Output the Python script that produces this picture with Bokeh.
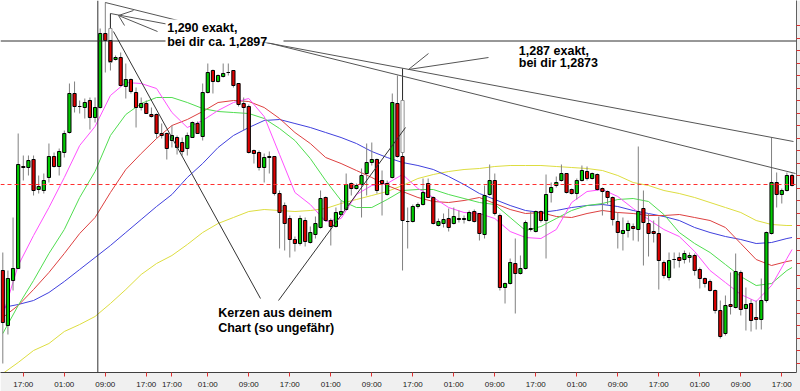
from bokeh.plotting import figure
from bokeh.models import (Range1d, FixedTicker, Span, Label,
                          ColumnDataSource, BoxAnnotation)
from bokeh.embed import file_html
from bokeh.resources import INLINE

# ---------------- data (hourly candles) ----------------
open_ = [1.27920,1.27700,1.27880,1.27928,1.28336,1.28332,1.28364,1.28244,1.28240,1.28292,
 1.28376,1.28336,1.28392,1.28472,1.28628,1.28576,1.28572,1.28600,1.28532,1.28572,
 1.28868,1.28840,1.28764,1.28772,1.28656,1.28684,1.28632,1.28572,1.28588,1.28544,
 1.28544,1.28468,1.28468,1.28440,1.28452,1.28432,1.28408,1.28452,1.28508,1.28456,
 1.28632,1.28720,1.28676,1.28696,1.28712,1.28720,1.28668,1.28588,1.28576,1.28400,
 1.28392,1.28332,1.28372,1.28376,1.28228,1.28180,1.28128,1.28044,1.28028,1.28120,
 1.28032,1.28064,1.28092,1.28212,1.28120,1.28096,1.28144,1.28164,1.28268,1.28248,
 1.28264,1.28308,1.28352,1.28364,1.28280,1.28224,1.28292,1.28588,1.28376,1.28116,
 1.28116,1.28176,1.28184,1.28268,1.28212,1.28100,1.28108,1.28128,1.28108,1.28128,
 1.28124,1.28120,1.28156,1.28148,1.28064,1.28224,1.28280,1.28140,1.27852,1.27868,
 1.27948,1.27908,1.27928,1.28084,1.28076,1.28156,1.28120,1.28232,1.28260,1.28280,
 1.28308,1.28244,1.28228,1.28280,1.28316,1.28288,1.28304,1.28248,1.28236,1.28212,
 1.28116,1.28068,1.28080,1.28096,1.28084,1.28168,1.28108,1.28076,1.28068,1.27952,
 1.27892,1.27964,1.27972,1.27964,1.27972,1.27980,1.27924,1.27888,1.27876,1.27840,
 1.27760,1.27668,1.27784,1.27772,1.27912,1.27768,1.27788,1.27732,1.27724,1.27800,
 1.28068,1.28272,1.28224,1.28240,1.28300]
high = [1.27992,1.27920,1.28132,1.28468,1.28380,1.28380,1.28380,1.28300,1.28308,1.28428,
 1.28392,1.28408,1.28480,1.28668,1.28676,1.28600,1.28608,1.28612,1.28612,1.28888,
 1.28992,1.28948,1.28780,1.28792,1.28748,1.28688,1.28652,1.28612,1.28600,1.28572,
 1.28548,1.28508,1.28472,1.28500,1.28460,1.28452,1.28472,1.28516,1.28516,1.28668,
 1.28748,1.28724,1.28704,1.28748,1.28748,1.28720,1.28668,1.28612,1.28584,1.28404,
 1.28400,1.28388,1.28396,1.28376,1.28240,1.28192,1.28140,1.28056,1.28140,1.28132,
 1.28096,1.28136,1.28240,1.28216,1.28128,1.28172,1.28200,1.28308,1.28272,1.28268,
 1.28328,1.28428,1.28432,1.28368,1.28320,1.28280,1.28628,1.28700,1.28728,1.28172,
 1.28184,1.28192,1.28288,1.28288,1.28216,1.28128,1.28148,1.28168,1.28172,1.28160,
 1.28140,1.28160,1.28164,1.28148,1.28260,1.28344,1.28308,1.28148,1.27872,1.27968,
 1.28048,1.27980,1.28120,1.28156,1.28160,1.28160,1.28304,1.28272,1.28296,1.28344,
 1.28308,1.28248,1.28288,1.28340,1.28336,1.28312,1.28308,1.28252,1.28240,1.28216,
 1.28152,1.28132,1.28120,1.28108,1.28416,1.28240,1.28148,1.28120,1.28136,1.27960,
 1.27992,1.27992,1.27992,1.28000,1.27992,1.27988,1.27932,1.27892,1.27884,1.27844,
 1.27800,1.27820,1.27912,1.27988,1.27920,1.27852,1.27804,1.27800,1.27888,1.28076,
 1.28452,1.28312,1.28248,1.28312,1.28308]
low = [1.27548,1.27664,1.27840,1.27928,1.28280,1.28300,1.28220,1.28228,1.28228,1.28272,
 1.28332,1.28300,1.28372,1.28468,1.28552,1.28548,1.28528,1.28484,1.28512,1.28568,
 1.28712,1.28720,1.28760,1.28656,1.28608,1.28628,1.28492,1.28560,1.28548,1.28532,
 1.28448,1.28448,1.28364,1.28412,1.28384,1.28380,1.28380,1.28452,1.28468,1.28440,
 1.28628,1.28628,1.28672,1.28692,1.28700,1.28652,1.28576,1.28480,1.28388,1.28348,
 1.28320,1.28272,1.28308,1.28220,1.28008,1.28000,1.27972,1.27996,1.28020,1.28016,
 1.28028,1.28048,1.28088,1.28116,1.28020,1.28092,1.28140,1.28160,1.28220,1.28244,
 1.28132,1.28220,1.28340,1.28228,1.28140,1.28220,1.28288,1.28372,1.27920,1.28008,
 1.28112,1.28168,1.28180,1.28212,1.28104,1.28096,1.28092,1.28076,1.28104,1.28112,
 1.28108,1.28116,1.28112,1.28040,1.28048,1.28220,1.28140,1.27840,1.27788,1.27864,
 1.27748,1.27904,1.27924,1.28076,1.28072,1.28112,1.27968,1.28192,1.28252,1.28276,
 1.28228,1.28224,1.28204,1.28276,1.28280,1.28284,1.28240,1.28140,1.28184,1.28100,
 1.28008,1.28000,1.28052,1.28040,1.28036,1.27940,1.27976,1.28032,1.27844,1.27888,
 1.27880,1.27928,1.27932,1.27948,1.27952,1.27900,1.27848,1.27852,1.27836,1.27748,
 1.27648,1.27660,1.27744,1.27768,1.27740,1.27680,1.27676,1.27684,1.27684,1.27792,
 1.28064,1.28172,1.28188,1.28236,1.28256]
close = [1.27712,1.27888,1.27928,1.28344,1.28332,1.28360,1.28240,1.28256,1.28280,1.28376,
 1.28336,1.28396,1.28468,1.28628,1.28576,1.28576,1.28592,1.28532,1.28572,1.28868,
 1.28840,1.28756,1.28772,1.28660,1.28684,1.28636,1.28572,1.28588,1.28548,1.28536,
 1.28468,1.28460,1.28408,1.28460,1.28412,1.28396,1.28460,1.28512,1.28468,1.28632,
 1.28712,1.28676,1.28700,1.28708,1.28712,1.28660,1.28584,1.28572,1.28392,1.28388,
 1.28332,1.28372,1.28376,1.28228,1.28152,1.28108,1.28044,1.28028,1.28128,1.28036,
 1.28072,1.28108,1.28208,1.28120,1.28096,1.28152,1.28156,1.28264,1.28248,1.28260,
 1.28300,1.28352,1.28364,1.28240,1.28268,1.28268,1.28592,1.28376,1.28120,1.28116,
 1.28176,1.28184,1.28232,1.28212,1.28108,1.28116,1.28124,1.28092,1.28136,1.28124,
 1.28128,1.28152,1.28116,1.28068,1.28220,1.28280,1.28148,1.27852,1.27868,1.27952,
 1.27908,1.27928,1.28112,1.28088,1.28156,1.28120,1.28224,1.28252,1.28272,1.28308,
 1.28232,1.28228,1.28280,1.28320,1.28288,1.28308,1.28244,1.28236,1.28212,1.28124,
 1.28072,1.28080,1.28108,1.28088,1.28156,1.28112,1.28068,1.28068,1.27960,1.27900,
 1.27960,1.27964,1.27960,1.27988,1.27980,1.27920,1.27888,1.27868,1.27840,1.27760,
 1.27656,1.27780,1.27776,1.27916,1.27764,1.27784,1.27720,1.27724,1.27800,1.28072,
 1.28272,1.28224,1.28240,1.28300,1.28260]

# moving averages, read every 3rd candle (plus the last one)
ma_idx = list(range(0, 154, 3)) + [154]
ma_magenta = [1.27740,1.27940,1.28060,1.28172,1.28292,1.28420,1.28496,1.28620,1.28672,1.28668,
 1.28648,1.28552,1.28492,1.28520,1.28560,1.28592,1.28608,1.28536,1.28384,1.28232,
 1.28184,1.28116,1.28128,1.28224,1.28260,1.28268,1.28304,1.28248,1.28212,1.28172,
 1.28152,1.28148,1.28128,1.28076,1.28052,1.28048,1.28084,1.28192,1.28236,1.28244,
 1.28216,1.28168,1.28124,1.28084,1.28056,1.27996,1.27920,1.27872,1.27824,1.27796,
 1.27860,1.27968,1.28004]
ma_green = [1.27668,1.27780,1.27880,1.27988,1.28084,1.28212,1.28316,1.28460,1.28544,1.28588,
 1.28612,1.28612,1.28592,1.28568,1.28556,1.28552,1.28548,1.28528,1.28488,1.28440,
 1.28368,1.28280,1.28200,1.28172,1.28172,1.28204,1.28240,1.28244,1.28244,1.28224,
 1.28208,1.28192,1.28184,1.28132,1.28080,1.28096,1.28128,1.28160,1.28180,1.28188,
 1.28204,1.28208,1.28196,1.28144,1.28072,1.28028,1.27992,1.27944,1.27896,1.27860,
 1.27868,1.27920,1.27932]
ma_red = [1.27732,1.27780,1.27844,1.27912,1.27988,1.28068,1.28132,1.28232,1.28324,1.28388,
 1.28448,1.28500,1.28524,1.28556,1.28592,1.28600,1.28596,1.28572,1.28528,1.28472,
 1.28428,1.28372,1.28348,1.28320,1.28292,1.28260,1.28236,1.28212,1.28196,1.28192,
 1.28200,1.28212,1.28188,1.28164,1.28148,1.28152,1.28136,1.28132,1.28148,1.28160,
 1.28152,1.28148,1.28140,1.28140,1.28144,1.28132,1.28120,1.28092,1.28028,1.27964,
 1.27940,1.27956,1.27960]
ma_blue = [1.27772,1.27784,1.27800,1.27832,1.27876,1.27924,1.27972,1.28020,1.28072,1.28124,
 1.28176,1.28224,1.28292,1.28348,1.28412,1.28460,1.28492,1.28520,1.28524,1.28508,
 1.28492,1.28472,1.28452,1.28428,1.28396,1.28372,1.28352,1.28340,1.28324,1.28296,
 1.28264,1.28228,1.28204,1.28180,1.28160,1.28152,1.28160,1.28172,1.28180,1.28184,
 1.28176,1.28160,1.28148,1.28136,1.28120,1.28092,1.28072,1.28056,1.28044,1.28028,
 1.28032,1.28048,1.28052]
ma_yellow = [1.27508,1.27552,1.27600,1.27628,1.27676,1.27704,1.27736,1.27788,1.27844,1.27904,
 1.27948,1.27980,1.28024,1.28072,1.28108,1.28132,1.28156,1.28164,1.28160,1.28156,
 1.28160,1.28168,1.28188,1.28204,1.28220,1.28236,1.28260,1.28288,1.28304,1.28316,
 1.28324,1.28328,1.28336,1.28340,1.28340,1.28340,1.28336,1.28332,1.28328,1.28320,
 1.28300,1.28272,1.28260,1.28240,1.28228,1.28212,1.28192,1.28172,1.28152,1.28120,
 1.28104,1.28100,1.28100]

# "Kerzen aus deinem Chart" (hollow candles)
hollow_idx = [21, 78]
hollow_high = [1.28948, 1.28728]
hollow_top = [1.28888, 1.28600]
hollow_bottom = [1.28752, 1.28392]

# x-axis labels
tick_idx = [4, 12, 20, 28, 33, 40, 48, 56, 64, 72, 80, 88, 96, 104, 112, 120, 128, 136, 144, 152]
tick_labels = ["17:00", "01:00", "09:00", "17:00", "17:00", "01:00", "09:00", "17:00", "01:00",
               "09:00", "17:00", "01:00", "09:00", "17:00", "01:00", "09:00", "17:00", "01:00",
               "09:00", "17:00"]
# unlabeled price tick marks on the right edge (every 0.0005)
price_marks = [1.2890, 1.2885, 1.2880, 1.2875, 1.2870, 1.2865, 1.2860, 1.2855, 1.2850,
               1.2845, 1.2840, 1.2835, 1.2830, 1.2825, 1.2820, 1.2815, 1.2810, 1.2805,
               1.2800, 1.2795, 1.2790, 1.2785, 1.2780, 1.2775, 1.2770, 1.2765, 1.2760,
               1.2755]

# drawn annotation lines (trend lines, arrows, pointer lines)
trend_x0 = [20, 21]
trend_y0 = [1.28992, 1.28948]
trend_x1 = [154.68, 154.28]
trend_y1 = [1.28308, 1.28436]
arrow_x0 = [30.19, 22.58, 22.58, 94.77, 79.16]
arrow_y0 = [1.28876, 1.28940, 1.28940, 1.28772, 1.28724]
arrow_x1 = [22.58, 25.50, 23.75, 79.16, 83.06]
arrow_y1 = [1.28940, 1.28960, 1.28900, 1.28724, 1.28788]
pointer_x0 = [21.6, 53.8]
pointer_y0 = [1.28876, 1.27800]
pointer_x1 = [50.28, 78.58]
pointer_y1 = [1.27808, 1.28492]

cross_x = 18.54
cross_y = 1.28838
level_red = 1.28264

notes = [("1,290 exakt,", 32.08, 1.28892), ("bei dir ca. 1,2897", 32.08, 1.28836),
         ("1,287 exakt,", 100.68, 1.28800), ("bei dir 1,2873", 100.68, 1.28750),
         ("Kerzen aus deinem", 42.03, 1.27752), ("Chart (so ungefähr)", 42.03, 1.27692)]

# ---------------- figure ----------------
N = len(open_)
idx = list(range(N))
tops = [max(o, c) for o, c in zip(open_, close)]
bots = [min(o, c) for o, c in zip(open_, close)]
cols = ["#00cc00" if c >= o else "#dd0000" for o, c in zip(open_, close)]
src = ColumnDataSource(dict(x=idx, high=high, low=low, top=tops, bottom=bots, color=cols))

p = figure(width=800, height=391, output_backend="svg", toolbar_location=None,
           x_range=Range1d(-0.449, 154.87), y_range=Range1d(1.27512, 1.29000),
           y_axis_location="right", min_border_left=0, min_border_top=0,
           min_border_right=4, min_border_bottom=19)
p.xgrid.visible = False
p.ygrid.visible = False
p.outline_line_color = None
p.background_fill_color = "white"
p.border_fill_color = "#f0f0f0"

xa = p.xaxis[0]
xa.ticker = FixedTicker(ticks=tick_idx)
xa.major_label_overrides = {t: l for t, l in zip(tick_idx, tick_labels)}
xa.major_tick_out = 4
xa.major_tick_in = 0
xa.minor_tick_out = 0
xa.minor_tick_in = 0
xa.major_tick_line_color = "#e03030"
xa.axis_line_color = "#404040"
xa.major_label_text_font_size = "8px"
xa.major_label_text_font = "Liberation Sans"
xa.major_label_text_color = "#202020"
xa.major_label_standoff = 3

ya = p.yaxis[0]
ya.ticker = FixedTicker(ticks=[], minor_ticks=price_marks)
ya.major_tick_out = 0
ya.major_tick_in = 0
ya.minor_tick_out = 4
ya.minor_tick_in = 0
ya.minor_tick_line_color = "#e03030"
ya.major_label_standoff = 0
ya.axis_line_color = "#606060"

# moving averages
for ys, col in [(ma_yellow, "#dddd40"), (ma_blue, "#4040dd"), (ma_red, "#dd4040"),
                (ma_green, "#50dd50"), (ma_magenta, "#ff50ff")]:
    p.line(ma_idx, ys, line_color=col, line_width=1)

# candles
p.segment(x0="x", y0="high", x1="x", y1="low", source=src, line_color="#808080", line_width=1)
p.segment(x0=hollow_idx, y0=hollow_high, x1=hollow_idx, y1=hollow_bottom,
          line_color="#303030", line_width=1)
p.vbar(x=hollow_idx, top=hollow_top, bottom=hollow_bottom, width=0.62,
       fill_color="white", line_color="#909090", line_width=1)
p.vbar(x="x", top="top", bottom="bottom", width=0.62, source=src,
       fill_color="color", line_color="black", line_width=1)

# drawn lines
p.segment(x0=trend_x0, y0=trend_y0, x1=trend_x1, y1=trend_y1, line_color="#555555", line_width=1)
p.segment(x0=arrow_x0, y0=arrow_y0, x1=arrow_x1, y1=arrow_y1, line_color="#555555", line_width=1)
p.segment(x0=pointer_x0, y0=pointer_y0, x1=pointer_x1, y1=pointer_y1, line_color="#333333", line_width=1)

p.add_layout(Span(location=level_red, dimension="width", line_color="#ff3030",
                  line_dash="4 3", line_width=1))
p.add_layout(Span(location=cross_y, dimension="width", line_color="#303030", line_width=1))
p.add_layout(Span(location=cross_x, dimension="height", line_color="#303030", line_width=1))

p.add_layout(BoxAnnotation(left=31.75, right=54.77, top=1.28924, bottom=1.28832,
                           fill_color="white", fill_alpha=1.0, line_color=None))

for txt, x, y in notes:
    p.add_layout(Label(x=x, y=y, x_units="data", y_units="data", text=txt,
                       text_font="Liberation Sans", text_font_style="bold",
                       text_font_size="12.5px", text_color="black",
                       text_baseline="middle", text_align="left"))

open("out.html", "w").write(file_html(p, INLINE))
